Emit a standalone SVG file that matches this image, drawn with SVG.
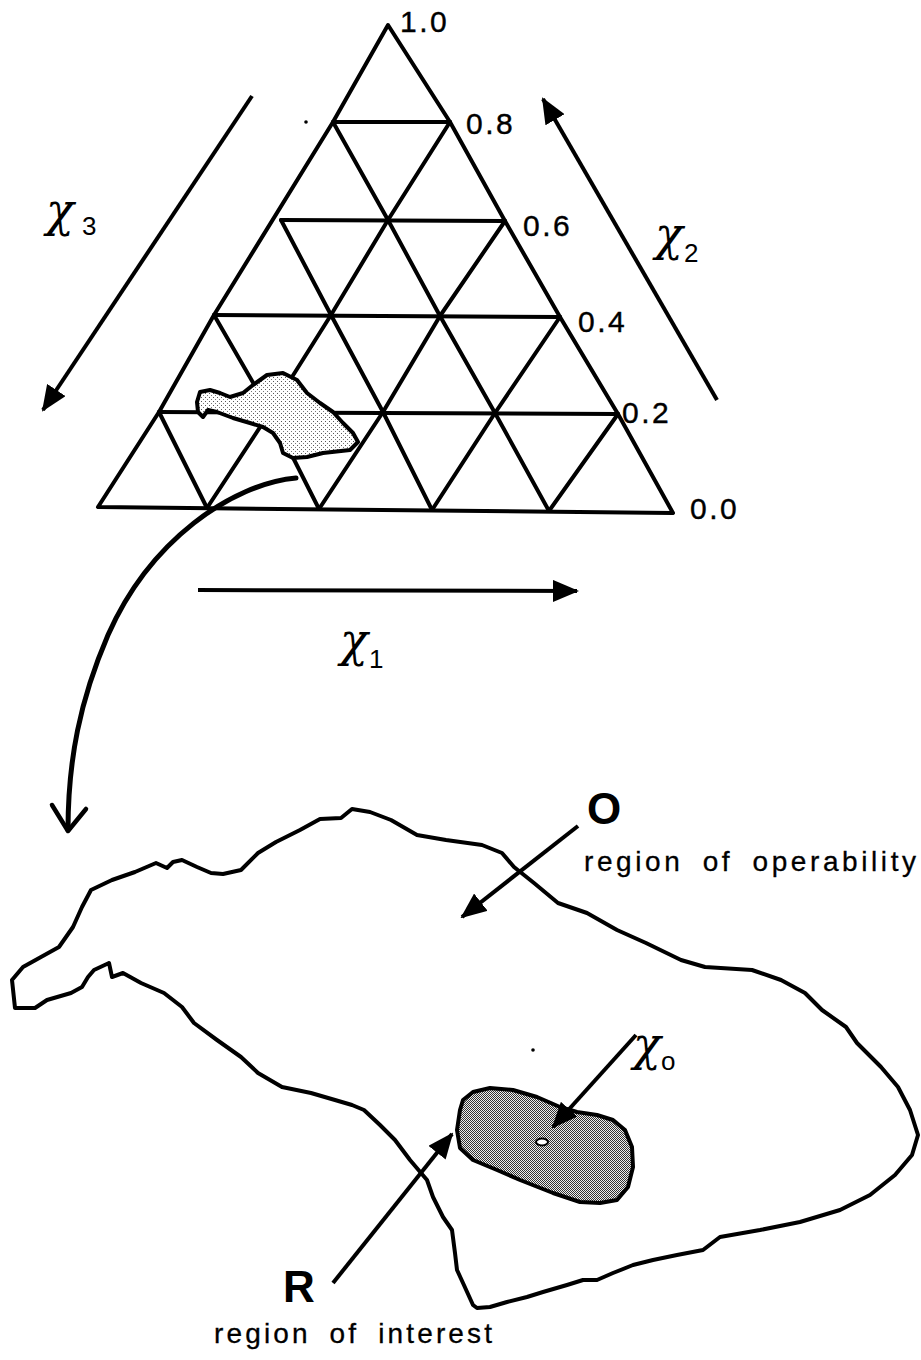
<svg xmlns="http://www.w3.org/2000/svg" width="921" height="1360" viewBox="0 0 921 1360">
<defs>
<style>
.grid{fill:none;stroke:#000;stroke-width:4;stroke-linejoin:round;stroke-linecap:round}
.ax{fill:none;stroke:#000;stroke-width:4;marker-end:url(#ah)}
.num{font-family:"Liberation Sans",Arial,sans-serif;font-size:30px;letter-spacing:2.5px;fill:#000;stroke:#000;stroke-width:0.4}
.chi{font-family:"DejaVu Serif","Liberation Serif",serif;font-style:italic;font-size:46px;fill:#000}
.sub{font-family:"Liberation Sans",Arial,sans-serif;font-size:26px;font-style:normal;fill:#000}
.big{font-family:"Liberation Sans",Arial,sans-serif;font-weight:bold;font-size:44px;fill:#000}
.cap{font-family:"Liberation Sans",Arial,sans-serif;font-size:28px;fill:#000;stroke:#000;stroke-width:0.3}
.outline{stroke:#000;stroke-width:4;stroke-linejoin:round}
</style>
<pattern id="light" width="4" height="4" patternUnits="userSpaceOnUse"><rect width="4" height="4" fill="#fff"/><rect x="1" y="1" width="1" height="1" fill="#555"/><rect x="3" y="3" width="1" height="1" fill="#777"/></pattern>
<pattern id="dark" width="2" height="2" patternUnits="userSpaceOnUse"><rect width="2" height="2" fill="#eee"/><rect width="1" height="1" fill="#333"/><rect x="1" y="1" width="1" height="1" fill="#333"/></pattern>
<marker id="ah" viewBox="0 0 26 22" markerWidth="26" markerHeight="22" refX="24" refY="11" orient="auto" markerUnits="userSpaceOnUse"><path d="M0,0 L26,11 L0,22 Z" fill="#000"/></marker>
</defs>
<rect width="921" height="1360" fill="#fff"/>

<g id="ternary-grid" class="grid">
<polyline points="98,507 159,412 214,315 333,122 388,25 450,122 505,221 560,317 618,414 673,513 98,507"/>
<line x1="333" y1="122" x2="450" y2="122"/>
<line x1="281" y1="220" x2="505" y2="221"/>
<line x1="214" y1="315" x2="560" y2="317"/>
<line x1="159" y1="412" x2="618" y2="414"/>
<polyline points="207,508 270,412 331,315 388,220 450,122"/>
<polyline points="319,509 383,412 440,316 505,221"/>
<polyline points="432,510 495,413 560,317"/>
<polyline points="549,511 618,414"/>
<polyline points="333,122 388,220 440,316 495,413 549,511"/>
<polyline points="281,220 331,315 383,412 432,510"/>
<polyline points="214,315 270,412 319,509"/>
<polyline points="159,412 207,508"/>
</g>

<g id="tick-labels">
<text class="num" x="400" y="32">1.0</text>
<text class="num" x="466" y="134">0.8</text>
<text class="num" x="523" y="236">0.6</text>
<text class="num" x="578" y="332">0.4</text>
<text class="num" x="622" y="423">0.2</text>
<text class="num" x="690" y="519">0.0</text>
</g>

<g id="feasible-blob">
<path class="outline" fill="url(#light)" d="M200,392 L210,390 L220,393 L230,397 L243,393 L253,385 L267,375 L283,373 L297,380 L307,393 L320,403 L333,412 L343,423 L353,433 L358,442 L350,450 L323,453 L307,457 L293,458 L283,453 L280,443 L273,433 L263,427 L250,423 L233,418 L217,412 L208,410 L203,417 L198,412 L197,402 Z"/>
</g>

<g id="axis-x3"><line class="ax" x1="252" y1="96" x2="43" y2="410"/><text class="chi" x="46" y="226">χ<tspan class="sub" x="82" y="235">3</tspan></text></g>
<g id="axis-x2"><line class="ax" x1="717" y1="400" x2="543" y2="99"/><text class="chi" x="655" y="250">χ<tspan class="sub" x="684" y="262">2</tspan></text></g>
<g id="axis-x1"><line class="ax" x1="198" y1="590" x2="577" y2="591"/><text class="chi" x="340" y="656">χ<tspan class="sub" x="369" y="668">1</tspan></text></g>

<g id="region-O">
<path class="outline" fill="none" d="M15,1008 L12,980 L23,967 L41,957 L59,947 L73,927 L82,907 L91,890 L112,880 L135,872 L156,863 L167,868 L173,862 L182,860 L197,867 L211,873 L223,874 L241,870 L258,853 L276,842 L300,830 L320,819 L341,818 L352,809 L370,812 L391,820 L417,835 L446,840 L482,845 L502,853 L514,867 L534,883 L558,903 L587,913 L617,930 L646,943 L681,960 L705,967 L752,970 L781,980 L805,993 L822,1010 L846,1027 L857,1043 L881,1067 L898,1087 L910,1110 L918,1135 L912,1155 L895,1175 L870,1195 L840,1210 L800,1222 L760,1230 L720,1237 L703,1250 L677,1255 L653,1260 L633,1265 L613,1273 L597,1280 L583,1280 L567,1285 L543,1292 L527,1297 L507,1302 L490,1307 L477,1308 L473,1305 L463,1283 L457,1270 L455,1253 L452,1230 L443,1217 L433,1197 L427,1180 L410,1160 L395,1140 L380,1125 L364,1110 L352,1105 L335,1100 L311,1093 L282,1087 L258,1073 L241,1057 L217,1040 L194,1023 L182,1007 L164,993 L141,983 L123,973 L112,977 L109,963 L94,970 L88,977 L82,987 L71,993 L47,1000 L35,1008 Z"/>
<text class="big" x="587" y="824">O</text>
<text class="cap" x="584" y="871" textLength="332" lengthAdjust="spacing" word-spacing="8">region of operability</text>
</g>

<g id="region-R">
<path class="outline" fill="url(#dark)" d="M463,1100 L473,1092 L490,1088 L513,1090 L537,1097 L560,1107 L577,1112 L597,1115 L613,1120 L625,1130 L632,1147 L633,1167 L628,1187 L617,1200 L600,1203 L580,1202 L553,1193 L520,1180 L497,1170 L473,1160 L460,1148 L457,1130 L460,1110 Z"/>
<ellipse cx="542" cy="1142" rx="6" ry="3.5" fill="#fff" stroke="#000" stroke-width="2"/>
<text class="big" x="283" y="1302">R</text>
<text class="cap" x="214" y="1343" textLength="278" lengthAdjust="spacing" word-spacing="8">region of interest</text>
</g>

<g id="point-xo"><text class="chi" x="633" y="1060">χ<tspan class="sub" x="661" y="1070">o</tspan></text></g>

<g id="connectors">
<line class="ax" x1="578" y1="826" x2="462" y2="917"/>
<line class="ax" x1="636" y1="1035" x2="553" y2="1127"/>
<line class="ax" x1="333" y1="1283" x2="452" y2="1134"/>
<path d="M296,478 C232,484 150,540 108,635 C80,700 68,760 68,830" fill="none" stroke="#000" stroke-width="5" stroke-linecap="round"/>
<polyline points="52,805 68,831 86,809" fill="none" stroke="#000" stroke-width="4.5" stroke-linecap="round" stroke-linejoin="round"/>
</g>

<g id="specks"><circle cx="306" cy="122" r="1.8"/><circle cx="533" cy="1050" r="1.8"/></g>
</svg>
